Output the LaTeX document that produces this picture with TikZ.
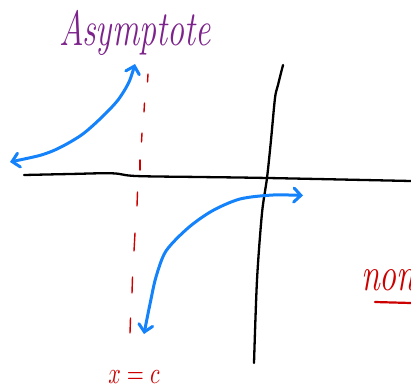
\documentclass[tikz,border=0pt]{standalone}
\usetikzlibrary{arrows.meta}
\definecolor{penblue}{RGB}{20,130,250}
\definecolor{penpurple}{RGB}{125,35,140}
\definecolor{penred}{RGB}{205,0,0}
\begin{document}
\begin{tikzpicture}[x=1pt,y=-1pt,
  axisline/.style={draw=black,line width=2.3pt,line cap=round,line join=round},
  curveline/.style={draw=penblue,line width=3pt,line cap=round,line join=round,
     {Straight Barb[length=7pt,width=14pt,line cap=round]}-{Straight Barb[length=7pt,width=14pt,line cap=round]}},
  dashline/.style={draw=penred,line width=1.4pt,line cap=round},
  hand/.style={inner sep=0pt}]
\useasboundingbox (0,0) rectangle (411,391);
\clip (0,0) rectangle (411,391);
% axes
\draw[axisline] plot[smooth,tension=0.6] coordinates {(24,175) (70,174) (112,173.3) (136,176) (200,177) (268,178) (411,181)};
\draw[axisline] plot[smooth,tension=0.5] coordinates {(283,65) (278,85) (275,98) (271,140) (267,178) (262,213) (257,280) (254,363)};
% asymptote dashes
\foreach \a/\b/\c/\d in {148/74/147.5/82, 144.5/103/144/112, 142/133/141.5/142, 140/160/140/170,
  137.5/192/137/206, 135/233/134/251, 132.5/277/132/293, 130.5/318/130/333}
  \draw[dashline] (\a,\b) -- (\c,\d);
% curves
\draw[curveline] plot[smooth] coordinates {(10,162) (50,152) (80,136) (101,118) (118,100) (129,82) (135,64)};
\draw[curveline] plot[smooth] coordinates {(144,334) (150,304) (156,277) (166,251) (188,228) (212,211) (240,199) (273,195) (303,195.5)};
% labels
\node[hand,text=penpurple,anchor=base,font=\itshape\fontsize{34}{38}\selectfont,yscale=1.45] (asy) at (135,45) {Asymptote};
\node[hand,text=penred,anchor=base,xscale=2.2,yscale=3] (xc) at (134,383) {$x=c$};
\node[hand,text=penred,anchor=base west,font=\itshape\fontsize{34}{38}\selectfont,yscale=1.4] (non) at (361,290) {non};
\draw[penred,line width=2.2pt,line cap=round] (375,302) -- (411,303);
\end{tikzpicture}
\end{document}
